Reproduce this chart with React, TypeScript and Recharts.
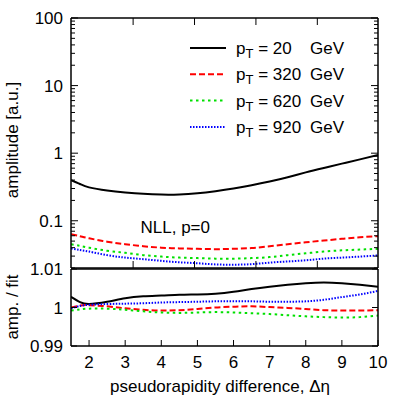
import React from 'react';
import { ComposedChart, Line, XAxis, YAxis, Legend } from 'recharts';

const FONT = '"Liberation Sans", Arial, Helvetica, sans-serif';

// pseudorapidity difference values
const eta = [1.5, 1.75, 2, 2.5, 3, 3.5, 4, 4.5, 5, 5.5, 6, 6.5, 7, 7.5, 8, 8.5, 9, 9.5, 10];

// amplitudes (upper panel)
const ampPt20 = [0.40, 0.35, 0.312, 0.28, 0.262, 0.25, 0.244, 0.245, 0.255, 0.274, 0.30, 0.335, 0.38, 0.44, 0.52, 0.605, 0.70, 0.81, 0.94];
const ampPt320 = [0.063, 0.059, 0.055, 0.049, 0.045, 0.042, 0.040, 0.039, 0.0385, 0.038, 0.0385, 0.0395, 0.042, 0.045, 0.048, 0.051, 0.054, 0.057, 0.059];
const ampPt620 = [0.045, 0.0425, 0.040, 0.036, 0.0335, 0.031, 0.0295, 0.0285, 0.028, 0.0275, 0.0275, 0.028, 0.029, 0.031, 0.033, 0.035, 0.0365, 0.0375, 0.0385];
const ampPt920 = [0.039, 0.037, 0.035, 0.031, 0.0285, 0.027, 0.0255, 0.0243, 0.0235, 0.0226, 0.0224, 0.0228, 0.024, 0.025, 0.026, 0.0275, 0.0285, 0.0295, 0.0307];

// amplitude / fit (lower panel)
const ratioPt20 = [1.0028, 1.0014, 1.0009, 1.0015, 1.0024, 1.0029, 1.0031, 1.0033, 1.0034, 1.0036, 1.0041, 1.0048, 1.0054, 1.0059, 1.0063, 1.0065, 1.0063, 1.0059, 1.0054];
const ratioPt320 = [1.0000, 1.0005, 1.0006, 1.0003, 0.9998, 0.9994, 0.9992, 0.9993, 0.9996, 1.0000, 1.0002, 1.0003, 1.0001, 0.9999, 0.9996, 0.9993, 0.9992, 0.9992, 0.9993];
const ratioPt620 = [0.9992, 0.9995, 0.9997, 0.9997, 0.9994, 0.9990, 0.9987, 0.9986, 0.9987, 0.9988, 0.9987, 0.9985, 0.9983, 0.9980, 0.9977, 0.9975, 0.9974, 0.9975, 0.9979];
const ratioPt920 = [0.9998, 1.0004, 1.0007, 1.0009, 1.0010, 1.0011, 1.0013, 1.0014, 1.0015, 1.0016, 1.0016, 1.0016, 1.0015, 1.0015, 1.0016, 1.0020, 1.0027, 1.0034, 1.0043];

const ptLabels = ['20', '320', '620', '920'];

// ticks
const logTicks = [0.02, 0.03, 0.04, 0.05, 0.06, 0.07, 0.08, 0.09, 0.1, 0.2, 0.3, 0.4, 0.5, 0.6, 0.7, 0.8, 0.9, 1, 2, 3, 4, 5, 6, 7, 8, 9, 10, 20, 30, 40, 50, 60, 70, 80, 90, 100];
const topXTicks = [3.22, 4.92, 6.62, 8.32];
const bottomXTicks = [2, 3, 4, 5, 6, 7, 8, 9, 10];
const ratioTicks = [0.99, 1, 1.01];

const SERIES = [
  { stroke: '#000000', dash: undefined as string | undefined },
  { stroke: '#ff0000', dash: '6 3' },
  { stroke: '#00e000', dash: '2.5 3.5' },
  { stroke: '#0000ff', dash: '1.5 1.5' },
];

const upperData = eta.map((x, i) => ({ eta: x, s0: ampPt20[i], s1: ampPt320[i], s2: ampPt620[i], s3: ampPt920[i] }));
const lowerData = eta.map((x, i) => ({ eta: x, s0: ratioPt20[i], s1: ratioPt320[i], s2: ratioPt620[i], s3: ratioPt920[i] }));

const isMajor = (v: number) => Math.abs(Math.log10(v) - Math.round(Math.log10(v))) < 1e-6;

const LeftLogTick = (props: any) => {
  const { x, y, payload } = props;
  const major = isMajor(payload.value);
  return (
    <g>
      <line x1={x} y1={y} x2={x + (major ? 7 : 4)} y2={y} stroke="#000" strokeWidth={1} />
      {major && (
        <text x={x - 8} y={y + 6} textAnchor="end" fontSize={17} fontFamily={FONT} fill="#000">
          {String(payload.value)}
        </text>
      )}
    </g>
  );
};

const RightLogTick = (props: any) => {
  const { x, y, payload } = props;
  const major = isMajor(payload.value);
  return <line x1={x} y1={y} x2={x - (major ? 7 : 4)} y2={y} stroke="#000" strokeWidth={1} />;
};

const TopTick = (props: any) => {
  const { x, y } = props;
  return <line x1={x} y1={y} x2={x} y2={y + 7} stroke="#000" strokeWidth={1} />;
};

const BottomTickNoLabel = (props: any) => {
  const { x, y } = props;
  return <line x1={x} y1={y} x2={x} y2={y - 7} stroke="#000" strokeWidth={1} />;
};

const BottomTickLabel = (props: any) => {
  const { x, y, payload } = props;
  return (
    <g>
      <line x1={x} y1={y} x2={x} y2={y - 6} stroke="#000" strokeWidth={1} />
      <text x={x} y={y + 22} textAnchor="middle" fontSize={17} fontFamily={FONT} fill="#000">
        {String(payload.value)}
      </text>
    </g>
  );
};

const LeftRatioTick = (props: any) => {
  const { x, y, payload } = props;
  return (
    <g>
      <line x1={x} y1={y} x2={x + 6} y2={y} stroke="#000" strokeWidth={1} />
      <text x={x - 8} y={y + 6} textAnchor="end" fontSize={17} fontFamily={FONT} fill="#000">
        {String(payload.value)}
      </text>
    </g>
  );
};

const RightRatioTick = (props: any) => {
  const { x, y } = props;
  return <line x1={x} y1={y} x2={x - 6} y2={y} stroke="#000" strokeWidth={1} />;
};

const LegendContent = (props: any) => {
  const payload = props.payload || [];
  return (
    <svg width={200} height={115} style={{ overflow: 'visible', display: 'block' }}>
      {payload.map((entry: any, i: number) => {
        const cy = 18 + i * 26.3;
        const st = SERIES[i] || SERIES[0];
        return (
          <g key={i}>
            <line x1={5} x2={41} y1={cy} y2={cy} stroke={entry.color || st.stroke} strokeWidth={2} strokeDasharray={st.dash} />
            <text x={51} y={cy + 6} fontSize={17} fontFamily={FONT} fill="#000">
              p<tspan fontSize={13} dy={4}>T</tspan>
              <tspan dy={-4}>{' = ' + ptLabels[i]}</tspan>
            </text>
            <text x={125} y={cy + 6} fontSize={17} fontFamily={FONT} fill="#000">GeV</text>
          </g>
        );
      })}
    </svg>
  );
};

const axisLine = { stroke: '#000', strokeWidth: 1.5 };

export default function App() {
  return (
    <div style={{ position: 'absolute', left: 0, top: 0, width: 407, height: 398, background: '#fff', fontFamily: FONT }}>
      <div style={{ position: 'absolute', left: 0, top: 0 }}>
        <ComposedChart width={407} height={270} data={upperData} margin={{ top: 17, right: 28, bottom: 1, left: 21 }}>
          <XAxis dataKey="eta" type="number" domain={[1.5, 10]} allowDataOverflow ticks={topXTicks}
            interval={0} height={1} tickSize={0} tickMargin={0} tickLine={false} axisLine={axisLine} tick={<BottomTickNoLabel />} />
          <XAxis xAxisId="top" orientation="top" dataKey="eta" type="number" domain={[1.5, 10]} allowDataOverflow ticks={topXTicks}
            interval={0} height={1} tickSize={0} tickMargin={0} tickLine={false} axisLine={axisLine} tick={<TopTick />} />
          <YAxis type="number" scale="log" domain={[0.02, 100]} allowDataOverflow ticks={logTicks} interval={0}
            width={50} tickSize={0} tickMargin={0} tickLine={false} axisLine={axisLine} tick={<LeftLogTick />} />
          <YAxis yAxisId="right" orientation="right" type="number" scale="log" domain={[0.02, 100]} allowDataOverflow ticks={logTicks} interval={0}
            width={1} tickSize={0} tickMargin={0} tickLine={false} axisLine={axisLine} tick={<RightLogTick />} />
          {SERIES.map((s, i) => (
            <Line key={i} dataKey={'s' + i} name={'pT = ' + ptLabels[i] + ' GeV'} type="natural" stroke={s.stroke} strokeWidth={2}
              strokeDasharray={s.dash} dot={false} activeDot={false} isAnimationActive={false} />
          ))}
          <Legend layout="vertical" align="center" verticalAlign="middle" content={<LegendContent />}
            wrapperStyle={{ position: 'absolute', left: 185, top: 30, width: 200, height: 115 }} />
        </ComposedChart>
      </div>
      <div style={{ position: 'absolute', left: 0, top: 250 }}>
        <ComposedChart width={407} height={148} data={lowerData} margin={{ top: 18, right: 28, bottom: 0, left: 21 }}>
          <XAxis dataKey="eta" type="number" domain={[1.5, 10]} allowDataOverflow ticks={bottomXTicks} interval={0}
            height={52} tickSize={0} tickMargin={0} tickLine={false} axisLine={axisLine} tick={<BottomTickLabel />} />
          <XAxis xAxisId="top" orientation="top" dataKey="eta" type="number" domain={[1.5, 10]} allowDataOverflow ticks={[]}
            height={1} tickLine={false} axisLine={axisLine} tick={false} />
          <YAxis type="number" domain={[0.99, 1.01]} allowDataOverflow ticks={ratioTicks} interval={0}
            width={50} tickSize={0} tickMargin={0} tickLine={false} axisLine={axisLine} tick={<LeftRatioTick />} />
          <YAxis yAxisId="right" orientation="right" type="number" domain={[0.99, 1.01]} allowDataOverflow ticks={ratioTicks} interval={0}
            width={1} tickSize={0} tickMargin={0} tickLine={false} axisLine={axisLine} tick={<RightRatioTick />} />
          {SERIES.map((s, i) => (
            <Line key={i} dataKey={'s' + i} type="natural" stroke={s.stroke} strokeWidth={2}
              strokeDasharray={s.dash} dot={false} activeDot={false} isAnimationActive={false} />
          ))}
        </ComposedChart>
      </div>
      <svg width={407} height={398} style={{ position: 'absolute', left: 0, top: 0, pointerEvents: 'none' }}>
        <text transform="translate(18,140) rotate(-90)" textAnchor="middle" fontSize={17} fontFamily={FONT} fill="#000">amplitude [a.u.]</text>
        <text transform="translate(18,307) rotate(-90)" textAnchor="middle" fontSize={17} fontFamily={FONT} fill="#000">amp. / fit</text>
        <text x={220} y={392} textAnchor="middle" fontSize={17} fontFamily={FONT} fill="#000">pseudorapidity difference, Δη</text>
        <text x={140.5} y={233} fontSize={17} fontFamily={FONT} fill="#000">NLL, p=0</text>
      </svg>
    </div>
  );
}
